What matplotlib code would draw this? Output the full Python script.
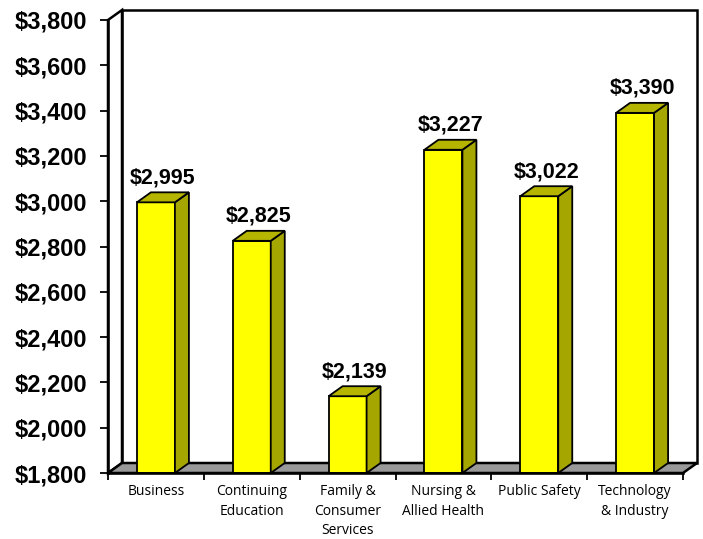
import matplotlib.pyplot as plt
from matplotlib.patches import Polygon, Rectangle
from matplotlib.ticker import FuncFormatter

categories = ["Business", "Continuing\nEducation", "Family &\nConsumer\nServices",
              "Nursing &\nAllied Health", "Public Safety", "Technology\n& Industry"]
values = [2995, 2825, 2139, 3227, 3022, 3390]
y_ticks = [1800, 2000, 2200, 2400, 2600, 2800, 3000, 3200, 3400, 3600, 3800]

W, H = 703, 539
fig = plt.figure(figsize=(W / 100, H / 100), dpi=100)
# axes box in pixels: front plane of the 3d chart
x0, x1, ytop, ybot = 108, 683, 20, 473
ax = fig.add_axes([x0 / W, 1 - ybot / H, (x1 - x0) / W, (ybot - ytop) / H])
ymin, ymax = 1800, 3800
n = len(categories)
ax.set_xlim(-0.5, n - 0.5)
ax.set_ylim(ymin, ymax)

# 3d depth offset, converted from pixels into data units
px_cat = (x1 - x0) / n
px_val = (ybot - ytop) / (ymax - ymin)
dx = 14 / px_cat
dy = 10 / px_val
bw = 38 / px_cat

lw = 1.8
# back wall
ax.add_patch(Rectangle((-0.5 + dx, ymin + dy), n, ymax - ymin, facecolor="white",
                       edgecolor="black", lw=lw, clip_on=False, zorder=1))
# left side wall
ax.add_patch(Polygon([(-0.5, ymin), (-0.5 + dx, ymin + dy), (-0.5 + dx, ymax + dy), (-0.5, ymax)],
                     closed=True, facecolor="white", edgecolor="black", lw=lw, clip_on=False, zorder=1))
# floor
ax.add_patch(Polygon([(-0.5, ymin), (n - 0.5, ymin), (n - 0.5 + dx, ymin + dy), (-0.5 + dx, ymin + dy)],
                     closed=True, facecolor="#999999", edgecolor="black", lw=lw, clip_on=False, zorder=2))

for i, v in enumerate(values):
    l, r = i - bw / 2, i + bw / 2
    ax.add_patch(Rectangle((l, ymin), bw, v - ymin, facecolor="#ffff00", edgecolor="black",
                           lw=1.3, clip_on=False, zorder=3))
    ax.add_patch(Polygon([(r, ymin), (r + dx, ymin + dy), (r + dx, v + dy), (r, v)], closed=True,
                         facecolor="#a6a600", edgecolor="black", lw=1.3, clip_on=False, zorder=3))
    ax.add_patch(Polygon([(l, v), (l + dx, v + dy), (r + dx, v + dy), (r, v)], closed=True,
                         facecolor="#b5b500", edgecolor="black", lw=1.3, clip_on=False, zorder=3))
    ax.text(i + dx / 2, v + dy + 9 / px_val, f"${v:,}", ha="center", va="baseline",
            fontsize=15.5, fontweight="bold", family="Liberation Sans", zorder=4)

for s in ["top", "right"]:
    ax.spines[s].set_visible(False)
ax.spines["left"].set_linewidth(lw)
ax.spines["bottom"].set_linewidth(lw)
ax.spines["left"].set_zorder(5)
ax.spines["bottom"].set_zorder(5)

ax.set_yticks(y_ticks)
ax.yaxis.set_major_formatter(FuncFormatter(lambda v, p: f"${int(v):,}"))
ax.tick_params(axis="y", direction="out", length=6, width=1.3, pad=9)
for t in ax.get_yticklabels():
    t.set_fontfamily("Liberation Sans")
    t.set_fontweight("bold")
    t.set_fontsize(17)

ax.set_xticks([i - 0.5 for i in range(n + 1)])
ax.set_xticklabels([])
ax.tick_params(axis="x", which="major", direction="out", length=5, width=1.3)
ax.set_xticks(range(n), minor=True)
ax.set_xticklabels(categories, minor=True, fontsize=10, family="Open Sans", linespacing=1.42)
ax.tick_params(axis="x", which="minor", length=0, pad=8)
ax.set_facecolor("none")

fig.savefig("out.png", dpi=100)
